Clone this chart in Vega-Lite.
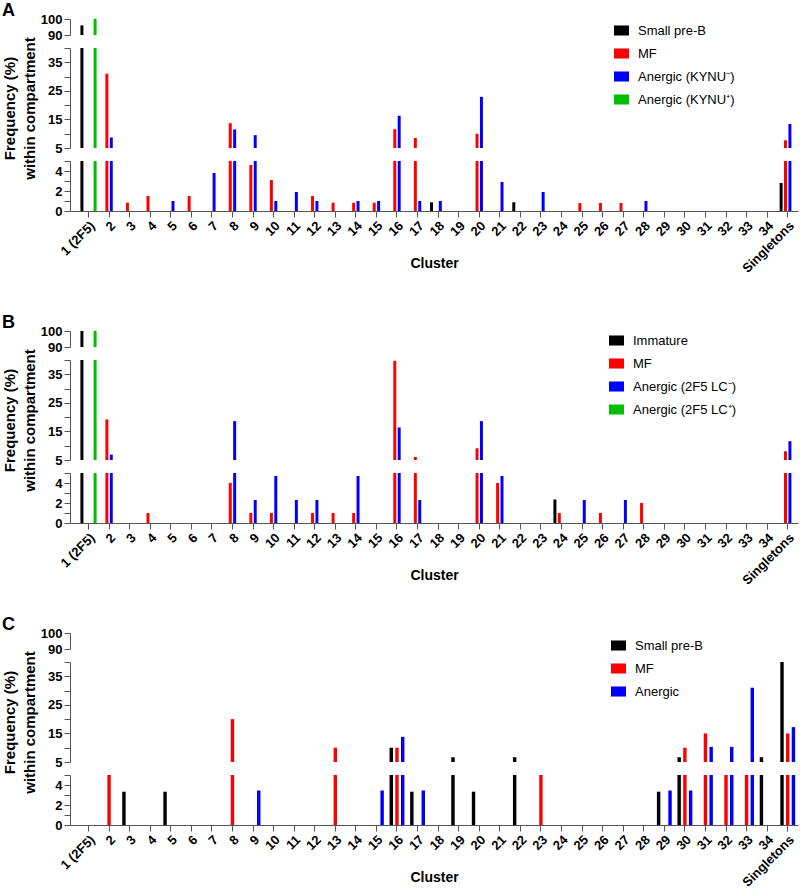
{
"$schema": "https://vega.github.io/schema/vega-lite/v6.json",
"padding": {"left": 2, "top": 2, "right": 2, "bottom": 2},
"datasets": {
"A": [
{"c":"1 (2F5)","s":"Small pre-B","v":96},
{"c":"1 (2F5)","s":"Anergic (KYNU⁺)","v":100},
{"c":"2","s":"MF","v":31},
{"c":"2","s":"Anergic (KYNU⁻)","v":8.7},
{"c":"3","s":"MF","v":0.83},
{"c":"4","s":"MF","v":1.5},
{"c":"5","s":"Anergic (KYNU⁻)","v":1.0},
{"c":"6","s":"MF","v":1.5},
{"c":"7","s":"Anergic (KYNU⁻)","v":3.8},
{"c":"8","s":"MF","v":13.7},
{"c":"8","s":"Anergic (KYNU⁻)","v":11.5},
{"c":"9","s":"MF","v":4.6},
{"c":"9","s":"Anergic (KYNU⁻)","v":9.5},
{"c":"10","s":"MF","v":3.1},
{"c":"10","s":"Anergic (KYNU⁻)","v":1.0},
{"c":"11","s":"Anergic (KYNU⁻)","v":1.9},
{"c":"12","s":"MF","v":1.5},
{"c":"12","s":"Anergic (KYNU⁻)","v":1.0},
{"c":"13","s":"MF","v":0.83},
{"c":"14","s":"MF","v":0.83},
{"c":"14","s":"Anergic (KYNU⁻)","v":1.0},
{"c":"15","s":"MF","v":0.83},
{"c":"15","s":"Anergic (KYNU⁻)","v":1.0},
{"c":"16","s":"MF","v":11.6},
{"c":"16","s":"Anergic (KYNU⁻)","v":16.3},
{"c":"17","s":"MF","v":8.5},
{"c":"17","s":"Anergic (KYNU⁻)","v":1.0},
{"c":"18","s":"Small pre-B","v":0.87},
{"c":"18","s":"Anergic (KYNU⁻)","v":1.0},
{"c":"20","s":"MF","v":10.0},
{"c":"20","s":"Anergic (KYNU⁻)","v":22.9},
{"c":"21","s":"Anergic (KYNU⁻)","v":2.9},
{"c":"22","s":"Small pre-B","v":0.87},
{"c":"23","s":"Anergic (KYNU⁻)","v":1.9},
{"c":"25","s":"MF","v":0.8},
{"c":"26","s":"MF","v":0.8},
{"c":"27","s":"MF","v":0.8},
{"c":"28","s":"Anergic (KYNU⁻)","v":1.0},
{"c":"Singletons","s":"Small pre-B","v":2.8},
{"c":"Singletons","s":"MF","v":7.7},
{"c":"Singletons","s":"Anergic (KYNU⁻)","v":13.4}
],
"B": [
{"c":"1 (2F5)","s":"Immature","v":100},
{"c":"1 (2F5)","s":"Anergic (2F5 LC⁺)","v":100},
{"c":"2","s":"MF","v":19.2},
{"c":"2","s":"Anergic (2F5 LC⁻)","v":6.9},
{"c":"4","s":"MF","v":1.0},
{"c":"8","s":"MF","v":4.0},
{"c":"8","s":"Anergic (2F5 LC⁻)","v":18.6},
{"c":"9","s":"MF","v":1.0},
{"c":"9","s":"Anergic (2F5 LC⁻)","v":2.3},
{"c":"10","s":"MF","v":1.0},
{"c":"10","s":"Anergic (2F5 LC⁻)","v":4.7},
{"c":"11","s":"Anergic (2F5 LC⁻)","v":2.3},
{"c":"12","s":"MF","v":1.0},
{"c":"12","s":"Anergic (2F5 LC⁻)","v":2.3},
{"c":"13","s":"MF","v":1.0},
{"c":"14","s":"MF","v":1.0},
{"c":"14","s":"Anergic (2F5 LC⁻)","v":4.7},
{"c":"16","s":"MF","v":39.7},
{"c":"16","s":"Anergic (2F5 LC⁻)","v":16.4},
{"c":"17","s":"MF","v":6.05},
{"c":"17","s":"Anergic (2F5 LC⁻)","v":2.3},
{"c":"20","s":"MF","v":9.1},
{"c":"20","s":"Anergic (2F5 LC⁻)","v":18.6},
{"c":"21","s":"MF","v":4.0},
{"c":"21","s":"Anergic (2F5 LC⁻)","v":4.7},
{"c":"24","s":"Immature","v":2.35},
{"c":"24","s":"MF","v":1.0},
{"c":"25","s":"Anergic (2F5 LC⁻)","v":2.3},
{"c":"26","s":"MF","v":1.0},
{"c":"27","s":"Anergic (2F5 LC⁻)","v":2.3},
{"c":"28","s":"MF","v":2.0},
{"c":"Singletons","s":"MF","v":8.05},
{"c":"Singletons","s":"Anergic (2F5 LC⁻)","v":11.6}
],
"C": [
{"c":"2","s":"MF","v":5.0},
{"c":"3","s":"Small pre-B","v":3.33},
{"c":"5","s":"Small pre-B","v":3.33},
{"c":"8","s":"MF","v":20},
{"c":"9","s":"Anergic","v":3.45},
{"c":"13","s":"MF","v":10},
{"c":"15","s":"Anergic","v":3.45},
{"c":"16","s":"Small pre-B","v":10},
{"c":"16","s":"MF","v":10},
{"c":"16","s":"Anergic","v":13.8},
{"c":"17","s":"Small pre-B","v":3.33},
{"c":"17","s":"Anergic","v":3.45},
{"c":"19","s":"Small pre-B","v":6.67},
{"c":"20","s":"Small pre-B","v":3.33},
{"c":"22","s":"Small pre-B","v":6.67},
{"c":"23","s":"MF","v":5.0},
{"c":"29","s":"Small pre-B","v":3.33},
{"c":"29","s":"Anergic","v":3.45},
{"c":"30","s":"Small pre-B","v":6.67},
{"c":"30","s":"MF","v":10},
{"c":"30","s":"Anergic","v":3.45},
{"c":"31","s":"MF","v":15},
{"c":"31","s":"Anergic","v":10.3},
{"c":"32","s":"MF","v":5.0},
{"c":"32","s":"Anergic","v":10.3},
{"c":"33","s":"MF","v":5.0},
{"c":"33","s":"Anergic","v":31.0},
{"c":"34","s":"Small pre-B","v":6.67},
{"c":"Singletons","s":"Small pre-B","v":40},
{"c":"Singletons","s":"MF","v":15},
{"c":"Singletons","s":"Anergic","v":17.2}
]
},
"spacing": 38,
"resolve": {"scale": {"x": "independent", "y": "independent", "xOffset": "independent", "color": "independent"}, "legend": {"color": "independent"}},
"vconcat": [
{
"title": {"text": "A", "anchor": "start", "frame": "bounds", "fontSize": 18, "fontWeight": "bold", "offset": -7},
"bounds": "flush", "spacing": 13,
"resolve": {"scale": {"x": "independent", "y": "independent", "xOffset": "independent", "color": "independent"}, "legend": {"color": "independent"}},
"vconcat": [
{"width": 728, "height": 16, "data": {"name": "A"}, "mark": {"type": "bar", "clip": true},
"encoding": {
"x": {"field": "c", "type": "nominal", "scale": {"domain": ["1 (2F5)","2","3","4","5","6","7","8","9","10","11","12","13","14","15","16","17","18","19","20","21","22","23","24","25","26","27","28","29","30","31","32","33","34","Singletons"], "paddingInner": 0, "paddingOuter": 0.2, "align": 1}, "axis": null},
"xOffset": {"field": "s", "type": "nominal", "scale": {"domain": ["Small pre-B","MF","Anergic (KYNU⁻)","Anergic (KYNU⁺)"], "paddingInner": 0.32, "paddingOuter": 0.5}},
"y": {"field": "v", "type": "quantitative", "scale": {"domain": [90, 100], "nice": false, "zero": false}, "axis": {"values": [90, 100], "title": null}},
"y2": {"datum": 0},
"color": {"field": "s", "type": "nominal", "scale": {"domain": ["Small pre-B","MF","Anergic (KYNU⁻)","Anergic (KYNU⁺)"], "range": ["#000000","#ff0000","#0000ff","#00bf00"]}, "legend": null}
}},
{"width": 728, "height": 100, "data": {"name": "A"}, "mark": {"type": "bar", "clip": true},
"encoding": {
"x": {"field": "c", "type": "nominal", "scale": {"domain": ["1 (2F5)","2","3","4","5","6","7","8","9","10","11","12","13","14","15","16","17","18","19","20","21","22","23","24","25","26","27","28","29","30","31","32","33","34","Singletons"], "paddingInner": 0, "paddingOuter": 0.2, "align": 1}, "axis": null},
"xOffset": {"field": "s", "type": "nominal", "scale": {"domain": ["Small pre-B","MF","Anergic (KYNU⁻)","Anergic (KYNU⁺)"], "paddingInner": 0.32, "paddingOuter": 0.5}},
"y": {"field": "v", "type": "quantitative", "scale": {"domain": [5, 40], "nice": false, "zero": false}, "axis": {"values": [5,10,15,20,25,30,35,40], "labelExpr": "datum.value % 10 == 5 && datum.value < 40 ? datum.label : ''", "title": ["Frequency (%)", "within compartment"], "titleFontSize": 15, "titleX": -53, "titleY": 60, "titleAngle": 270, "titleAlign": "center", "titleBaseline": "bottom", "titleLineHeight": 20}},
"y2": {"datum": 0},
"color": {"field": "s", "type": "nominal", "scale": {"domain": ["Small pre-B","MF","Anergic (KYNU⁻)","Anergic (KYNU⁺)"], "range": ["#000000","#ff0000","#0000ff","#00bf00"]}, "legend": {"orient": "none", "legendX": 544, "legendY": -25}}
}},
{"width": 728, "height": 50, "data": {"name": "A"}, "mark": {"type": "bar", "clip": true},
"encoding": {
"x": {"field": "c", "type": "nominal", "scale": {"domain": ["1 (2F5)","2","3","4","5","6","7","8","9","10","11","12","13","14","15","16","17","18","19","20","21","22","23","24","25","26","27","28","29","30","31","32","33","34","Singletons"], "paddingInner": 0, "paddingOuter": 0.2, "align": 1}, "axis": {"labelAngle": -45, "title": "Cluster", "titleY": 45, "titleBaseline": "top"}},
"xOffset": {"field": "s", "type": "nominal", "scale": {"domain": ["Small pre-B","MF","Anergic (KYNU⁻)","Anergic (KYNU⁺)"], "paddingInner": 0.32, "paddingOuter": 0.5}},
"y": {"field": "v", "type": "quantitative", "scale": {"domain": [0, 5], "nice": false}, "axis": {"values": [0,1,2,3,4,5], "labelExpr": "datum.value % 2 == 0 && datum.value < 5 ? datum.label : ''", "title": null}},
"y2": {"datum": 0},
"color": {"field": "s", "type": "nominal", "scale": {"domain": ["Small pre-B","MF","Anergic (KYNU⁻)","Anergic (KYNU⁺)"], "range": ["#000000","#ff0000","#0000ff","#00bf00"]}, "legend": null}
}}
]
},
{
"spacing": 28,
"resolve": {"scale": {"x": "independent", "y": "independent", "xOffset": "independent", "color": "independent"}, "legend": {"color": "independent"}},
"vconcat": [
{
"title": {"text": "B", "anchor": "start", "frame": "bounds", "fontSize": 18, "fontWeight": "bold", "offset": -7},
"bounds": "flush", "spacing": 13,
"resolve": {"scale": {"x": "independent", "y": "independent", "xOffset": "independent", "color": "independent"}, "legend": {"color": "independent"}},
"vconcat": [
{"width": 728, "height": 16, "data": {"name": "B"}, "mark": {"type": "bar", "clip": true},
"encoding": {
"x": {"field": "c", "type": "nominal", "scale": {"domain": ["1 (2F5)","2","3","4","5","6","7","8","9","10","11","12","13","14","15","16","17","18","19","20","21","22","23","24","25","26","27","28","29","30","31","32","33","34","Singletons"], "paddingInner": 0, "paddingOuter": 0.2, "align": 1}, "axis": null},
"xOffset": {"field": "s", "type": "nominal", "scale": {"domain": ["Immature","MF","Anergic (2F5 LC⁻)","Anergic (2F5 LC⁺)"], "paddingInner": 0.32, "paddingOuter": 0.5}},
"y": {"field": "v", "type": "quantitative", "scale": {"domain": [90, 100], "nice": false, "zero": false}, "axis": {"values": [90, 100], "title": null}},
"y2": {"datum": 0},
"color": {"field": "s", "type": "nominal", "scale": {"domain": ["Immature","MF","Anergic (2F5 LC⁻)","Anergic (2F5 LC⁺)"], "range": ["#000000","#ff0000","#0000ff","#00bf00"]}, "legend": null}
}},
{"width": 728, "height": 100, "data": {"name": "B"}, "mark": {"type": "bar", "clip": true},
"encoding": {
"x": {"field": "c", "type": "nominal", "scale": {"domain": ["1 (2F5)","2","3","4","5","6","7","8","9","10","11","12","13","14","15","16","17","18","19","20","21","22","23","24","25","26","27","28","29","30","31","32","33","34","Singletons"], "paddingInner": 0, "paddingOuter": 0.2, "align": 1}, "axis": null},
"xOffset": {"field": "s", "type": "nominal", "scale": {"domain": ["Immature","MF","Anergic (2F5 LC⁻)","Anergic (2F5 LC⁺)"], "paddingInner": 0.32, "paddingOuter": 0.5}},
"y": {"field": "v", "type": "quantitative", "scale": {"domain": [5, 40], "nice": false, "zero": false}, "axis": {"values": [5,10,15,20,25,30,35,40], "labelExpr": "datum.value % 10 == 5 && datum.value < 40 ? datum.label : ''", "title": ["Frequency (%)", "within compartment"], "titleFontSize": 15, "titleX": -53, "titleY": 60, "titleAngle": 270, "titleAlign": "center", "titleBaseline": "bottom", "titleLineHeight": 20}},
"y2": {"datum": 0},
"color": {"field": "s", "type": "nominal", "scale": {"domain": ["Immature","MF","Anergic (2F5 LC⁻)","Anergic (2F5 LC⁺)"], "range": ["#000000","#ff0000","#0000ff","#00bf00"]}, "legend": {"orient": "none", "legendX": 539, "legendY": -27}}
}},
{"width": 728, "height": 50, "data": {"name": "B"}, "mark": {"type": "bar", "clip": true},
"encoding": {
"x": {"field": "c", "type": "nominal", "scale": {"domain": ["1 (2F5)","2","3","4","5","6","7","8","9","10","11","12","13","14","15","16","17","18","19","20","21","22","23","24","25","26","27","28","29","30","31","32","33","34","Singletons"], "paddingInner": 0, "paddingOuter": 0.2, "align": 1}, "axis": {"labelAngle": -45, "title": "Cluster", "titleY": 45, "titleBaseline": "top"}},
"xOffset": {"field": "s", "type": "nominal", "scale": {"domain": ["Immature","MF","Anergic (2F5 LC⁻)","Anergic (2F5 LC⁺)"], "paddingInner": 0.32, "paddingOuter": 0.5}},
"y": {"field": "v", "type": "quantitative", "scale": {"domain": [0, 5], "nice": false}, "axis": {"values": [0,1,2,3,4,5], "labelExpr": "datum.value % 2 == 0 && datum.value < 5 ? datum.label : ''", "title": null}},
"y2": {"datum": 0},
"color": {"field": "s", "type": "nominal", "scale": {"domain": ["Immature","MF","Anergic (2F5 LC⁻)","Anergic (2F5 LC⁺)"], "range": ["#000000","#ff0000","#0000ff","#00bf00"]}, "legend": null}
}}
]
},
{
"title": {"text": "C", "anchor": "start", "frame": "bounds", "fontSize": 18, "fontWeight": "bold", "offset": -7},
"bounds": "flush", "spacing": 13,
"resolve": {"scale": {"x": "independent", "y": "independent", "xOffset": "independent", "color": "independent"}, "legend": {"color": "independent"}},
"vconcat": [
{"width": 728, "height": 16, "data": {"name": "C"}, "mark": {"type": "bar", "clip": true},
"encoding": {
"x": {"field": "c", "type": "nominal", "scale": {"domain": ["1 (2F5)","2","3","4","5","6","7","8","9","10","11","12","13","14","15","16","17","18","19","20","21","22","23","24","25","26","27","28","29","30","31","32","33","34","Singletons"], "paddingInner": 0, "paddingOuter": 0.2, "align": 1}, "axis": null},
"xOffset": {"field": "s", "type": "nominal", "scale": {"domain": ["Small pre-B","MF","Anergic"], "paddingInner": 0.4, "paddingOuter": 0.5}},
"y": {"field": "v", "type": "quantitative", "scale": {"domain": [90, 100], "nice": false, "zero": false}, "axis": {"values": [90, 100], "title": null}},
"y2": {"datum": 0},
"color": {"field": "s", "type": "nominal", "scale": {"domain": ["Small pre-B","MF","Anergic"], "range": ["#000000","#ff0000","#0000ff"]}, "legend": null}
}},
{"width": 728, "height": 100, "data": {"name": "C"}, "mark": {"type": "bar", "clip": true},
"encoding": {
"x": {"field": "c", "type": "nominal", "scale": {"domain": ["1 (2F5)","2","3","4","5","6","7","8","9","10","11","12","13","14","15","16","17","18","19","20","21","22","23","24","25","26","27","28","29","30","31","32","33","34","Singletons"], "paddingInner": 0, "paddingOuter": 0.2, "align": 1}, "axis": null},
"xOffset": {"field": "s", "type": "nominal", "scale": {"domain": ["Small pre-B","MF","Anergic"], "paddingInner": 0.4, "paddingOuter": 0.5}},
"y": {"field": "v", "type": "quantitative", "scale": {"domain": [5, 40], "nice": false, "zero": false}, "axis": {"values": [5,10,15,20,25,30,35,40], "labelExpr": "datum.value % 10 == 5 && datum.value < 40 ? datum.label : ''", "title": ["Frequency (%)", "within compartment"], "titleFontSize": 15, "titleX": -53, "titleY": 60, "titleAngle": 270, "titleAlign": "center", "titleBaseline": "bottom", "titleLineHeight": 20}},
"y2": {"datum": 0},
"color": {"field": "s", "type": "nominal", "scale": {"domain": ["Small pre-B","MF","Anergic"], "range": ["#000000","#ff0000","#0000ff"]}, "legend": {"orient": "none", "legendX": 541, "legendY": -24}}
}},
{"width": 728, "height": 50, "data": {"name": "C"}, "mark": {"type": "bar", "clip": true},
"encoding": {
"x": {"field": "c", "type": "nominal", "scale": {"domain": ["1 (2F5)","2","3","4","5","6","7","8","9","10","11","12","13","14","15","16","17","18","19","20","21","22","23","24","25","26","27","28","29","30","31","32","33","34","Singletons"], "paddingInner": 0, "paddingOuter": 0.2, "align": 1}, "axis": {"labelAngle": -45, "title": "Cluster", "titleY": 45, "titleBaseline": "top"}},
"xOffset": {"field": "s", "type": "nominal", "scale": {"domain": ["Small pre-B","MF","Anergic"], "paddingInner": 0.4, "paddingOuter": 0.5}},
"y": {"field": "v", "type": "quantitative", "scale": {"domain": [0, 5], "nice": false}, "axis": {"values": [0,1,2,3,4,5], "labelExpr": "datum.value % 2 == 0 && datum.value < 5 ? datum.label : ''", "title": null}},
"y2": {"datum": 0},
"color": {"field": "s", "type": "nominal", "scale": {"domain": ["Small pre-B","MF","Anergic"], "range": ["#000000","#ff0000","#0000ff"]}, "legend": null}
}}
]
}
]
}
],
"config": {
"font": "Liberation Sans",
"view": {"stroke": null},
"axis": {"grid": false, "domainColor": "#555555", "tickColor": "#555555", "tickSize": 6, "labelPadding": 2, "labelFontSize": 13, "labelFontWeight": "bold", "labelColor": "#000000", "titleFontSize": 14, "titleFontWeight": "bold", "titleColor": "#000000"},
"legend": {"title": null, "symbolType": "M-1,-0.67H1V0.67H-1Z", "symbolSize": 225, "symbolStrokeWidth": 0, "labelFontSize": 13, "labelColor": "#000000", "labelOffset": 9, "rowPadding": 8},
"title": {"color": "#000000"}
}
}
